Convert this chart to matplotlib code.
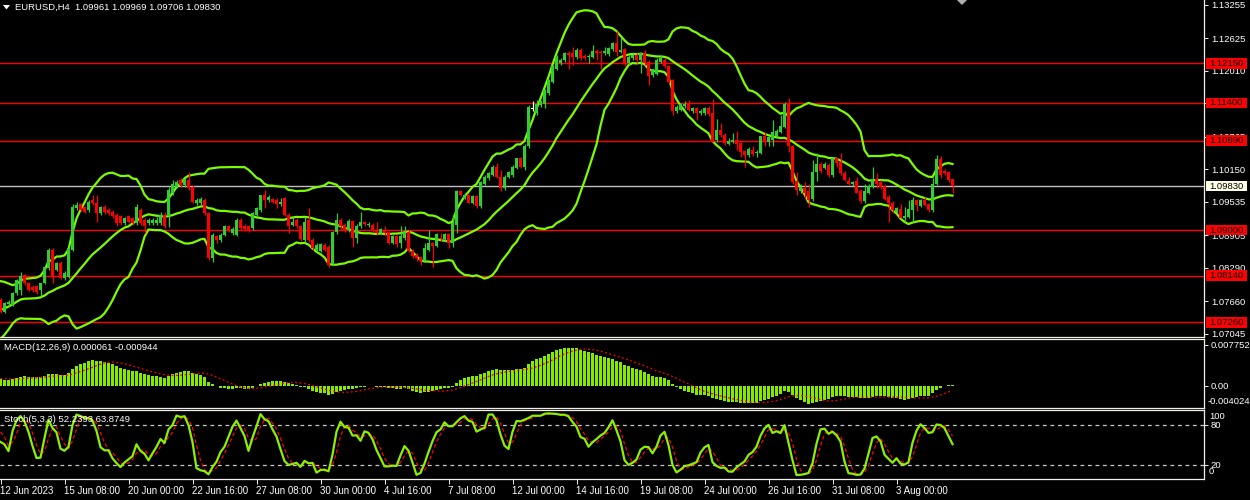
import numpy as np
import pandas as pd
import matplotlib
matplotlib.use('Agg')
import matplotlib.pyplot as plt
from matplotlib.patches import Rectangle, Polygon
from matplotlib.transforms import blended_transform_factory

plt.rcParams['font.family'] = ['Liberation Sans', 'DejaVu Sans']

# bars before the first visible candle, only used to warm up the indicators
warm_close = [1.0712, 1.0705, 1.0716, 1.0698, 1.0706, 1.0711,
              1.0714, 1.0706, 1.0688, 1.0681, 1.0697, 1.0693,
              1.0700, 1.0694, 1.0706, 1.0716, 1.0701, 1.0698,
              1.0700, 1.0709, 1.0726, 1.0767, 1.0784, 1.0779,
              1.0775, 1.0770, 1.0764, 1.0752, 1.0748, 1.0750,
              1.0746, 1.0760, 1.0772, 1.0764, 1.0775]
warm_high = [1.0718, 1.0716, 1.0720, 1.0719, 1.0710, 1.0716,
             1.0719, 1.0717, 1.0709, 1.0692, 1.0701, 1.0700,
             1.0705, 1.0703, 1.0710, 1.0722, 1.0719, 1.0705,
             1.0704, 1.0713, 1.0731, 1.0772, 1.0790, 1.0788,
             1.0783, 1.0778, 1.0773, 1.0767, 1.0756, 1.0755,
             1.0754, 1.0764, 1.0777, 1.0775, 1.0779]
warm_low = [1.0703, 1.0700, 1.0702, 1.0694, 1.0695, 1.0703,
            1.0707, 1.0702, 1.0684, 1.0676, 1.0679, 1.0689,
            1.0690, 1.0690, 1.0692, 1.0703, 1.0698, 1.0694,
            1.0695, 1.0697, 1.0705, 1.0723, 1.0762, 1.0774,
            1.0770, 1.0765, 1.0760, 1.0748, 1.0743, 1.0744,
            1.0741, 1.0744, 1.0757, 1.0761, 1.0762]

# visible H4 candles, 12 Jun 16:00 .. 7 Aug 08:00
opens = [
    1.0768, 1.0746, 1.0760, 1.0759, 1.0781, 1.0787, 1.0815, 1.0800, 1.0793, 1.0794,
    1.0787, 1.0800, 1.0828, 1.0863, 1.0825, 1.0838, 1.0809, 1.0812, 1.0863, 1.0941,
    1.0949, 1.0944, 1.0938, 1.0957, 1.0951, 1.0932, 1.0944, 1.0938, 1.0935, 1.0929,
    1.0926, 1.0913, 1.0926, 1.0922, 1.0913, 1.0938, 1.0919, 1.0913, 1.0913, 1.0913,
    1.0913, 1.0929, 1.0926, 1.0970, 1.0982, 1.0995, 1.0985, 1.0995, 1.0982, 1.0951,
    1.0951, 1.0957, 1.0932, 1.0847, 1.0888, 1.0882, 1.0891, 1.0907, 1.0894, 1.0891,
    1.0919, 1.0908, 1.0907, 1.0904, 1.0929, 1.0938, 1.0966, 1.0957, 1.0958, 1.0957,
    1.0949, 1.0960, 1.0929, 1.0910, 1.0919, 1.0907, 1.0882, 1.0919, 1.0882, 1.0863,
    1.0861, 1.0872, 1.0869, 1.0837, 1.0896, 1.0919, 1.0910, 1.0900, 1.0917, 1.0885,
    1.0907, 1.0915, 1.0909, 1.0910, 1.0901, 1.0895, 1.0900, 1.0896, 1.0876, 1.0888,
    1.0875, 1.0885, 1.0897, 1.0861, 1.0854, 1.0849, 1.0842, 1.0863, 1.0875, 1.0871,
    1.0886, 1.0883, 1.0892, 1.0875, 1.0910, 1.0973, 1.0961, 1.0966, 1.0952, 1.0964,
    1.0945, 1.0988, 1.0998, 1.1005, 1.1020, 1.1001, 1.0979, 1.1001, 1.1004, 1.1018,
    1.1036, 1.1020, 1.1058, 1.1129, 1.1121, 1.1136, 1.1139, 1.1158, 1.1180, 1.1205,
    1.1215, 1.1221, 1.1235, 1.1234, 1.1226, 1.1240, 1.1229, 1.1226, 1.1227, 1.1238,
    1.1237, 1.1234, 1.1232, 1.1241, 1.1254, 1.1237, 1.1241, 1.1215, 1.1224, 1.1231,
    1.1221, 1.1234, 1.1218, 1.1193, 1.1195, 1.1218, 1.1222, 1.1209, 1.1183, 1.1124,
    1.1127, 1.1134, 1.1139, 1.1124, 1.1130, 1.1121, 1.1121, 1.1131, 1.1122, 1.1070,
    1.1089, 1.1080, 1.1063, 1.1067, 1.1070, 1.1064, 1.1049, 1.1042, 1.1051, 1.1045,
    1.1046, 1.1077, 1.1067, 1.1070, 1.1077, 1.1086, 1.1095, 1.1139, 1.1058, 1.0992,
    1.0973, 1.0980, 1.0973, 1.0958, 1.1009, 1.1025, 1.1018, 1.1023, 1.1004, 1.1036,
    1.1029, 1.1008, 1.0993, 1.0987, 1.0992, 1.0974, 1.0955, 1.0971, 1.0982, 1.0997,
    1.0990, 1.0984, 1.0962, 1.0952, 1.0935, 1.0940, 1.0923, 1.0925, 1.0938, 1.0956,
    1.0946, 1.0956, 1.0949, 1.0938, 1.0988, 1.1034, 1.1011, 1.1009, 1.09961]
highs = [
    1.0771, 1.0765, 1.0768, 1.0783, 1.0808, 1.0821, 1.0818, 1.0803, 1.0796, 1.0797,
    1.0801, 1.0833, 1.0866, 1.0866, 1.0840, 1.0841, 1.0822, 1.0869, 1.0950, 1.0954,
    1.0952, 1.0946, 1.0957, 1.0966, 1.0966, 1.0946, 1.0947, 1.0941, 1.0938, 1.0932,
    1.0928, 1.0925, 1.0928, 1.0925, 1.0950, 1.0941, 1.0922, 1.0922, 1.0922, 1.0925,
    1.0935, 1.0935, 1.0982, 1.0994, 1.0994, 1.0998, 1.0999, 1.1010, 1.0985, 1.0960,
    1.0963, 1.0960, 1.0935, 1.0895, 1.0891, 1.0895, 1.0910, 1.0910, 1.0906, 1.0922,
    1.0922, 1.0911, 1.0910, 1.0935, 1.0944, 1.0966, 1.0976, 1.0966, 1.0961, 1.0960,
    1.0960, 1.0963, 1.0932, 1.0925, 1.0922, 1.0910, 1.0925, 1.0941, 1.0885, 1.0875,
    1.0876, 1.0875, 1.0872, 1.0899, 1.0932, 1.0922, 1.0913, 1.0921, 1.0920, 1.0911,
    1.0934, 1.0918, 1.0915, 1.0913, 1.0916, 1.0904, 1.0907, 1.0899, 1.0891, 1.0891,
    1.0907, 1.0907, 1.0900, 1.0864, 1.0857, 1.0852, 1.0875, 1.0900, 1.0878, 1.0894,
    1.0894, 1.0894, 1.0895, 1.0929, 1.0975, 1.0976, 1.0970, 1.0969, 1.0967, 1.0967,
    1.0992, 1.1004, 1.1010, 1.1023, 1.1026, 1.1014, 1.1004, 1.1011, 1.1023, 1.1037,
    1.1039, 1.1062, 1.1136, 1.1143, 1.1146, 1.1146, 1.1167, 1.1186, 1.1212, 1.1230,
    1.1225, 1.1237, 1.1238, 1.1246, 1.1243, 1.1243, 1.1232, 1.1232, 1.1249, 1.1241,
    1.1240, 1.1246, 1.1245, 1.1256, 1.1275, 1.1265, 1.1244, 1.1230, 1.1234, 1.1234,
    1.1237, 1.1240, 1.1221, 1.1205, 1.1224, 1.1231, 1.1225, 1.1212, 1.1186, 1.1136,
    1.1140, 1.1143, 1.1146, 1.1133, 1.1133, 1.1128, 1.1133, 1.1134, 1.1147, 1.1110,
    1.1102, 1.1083, 1.1073, 1.1083, 1.1087, 1.1067, 1.1052, 1.1057, 1.1058, 1.1051,
    1.1077, 1.1086, 1.1078, 1.1108, 1.1090, 1.1117, 1.1141, 1.1149, 1.1061, 1.1010,
    1.0988, 1.0990, 1.0988, 1.1032, 1.1046, 1.1029, 1.1028, 1.1026, 1.1039, 1.1039,
    1.1045, 1.1011, 1.1001, 1.0993, 1.1000, 1.0977, 1.0988, 1.0987, 1.1019, 1.1007,
    1.0994, 1.0987, 1.0966, 1.0955, 1.0944, 1.0949, 1.0943, 1.0957, 1.0962, 1.0959,
    1.0959, 1.0962, 1.0952, 1.0998, 1.1042, 1.1040, 1.1015, 1.1012, 1.09969]
lows = [
    1.0743, 1.0743, 1.0757, 1.0756, 1.0778, 1.0778, 1.0797, 1.0785, 1.0784, 1.0780,
    1.0775, 1.0798, 1.0825, 1.0800, 1.0822, 1.0807, 1.0805, 1.0810, 1.0860, 1.0938,
    1.0936, 1.0933, 1.0935, 1.0948, 1.0916, 1.0929, 1.0931, 1.0929, 1.0923, 1.0907,
    1.0910, 1.0910, 1.0914, 1.0910, 1.0910, 1.0910, 1.0894, 1.0910, 1.0910, 1.0910,
    1.0910, 1.0904, 1.0905, 1.0966, 1.0979, 1.0982, 1.0982, 1.0976, 1.0951, 1.0948,
    1.0948, 1.0929, 1.0843, 1.0840, 1.0875, 1.0878, 1.0888, 1.0897, 1.0891, 1.0888,
    1.0901, 1.0899, 1.0897, 1.0901, 1.0926, 1.0935, 1.0941, 1.0954, 1.0951, 1.0941,
    1.0946, 1.0926, 1.0894, 1.0907, 1.0904, 1.0880, 1.0878, 1.0878, 1.0863, 1.0860,
    1.0858, 1.0860, 1.0831, 1.0834, 1.0893, 1.0900, 1.0897, 1.0897, 1.0869, 1.0875,
    1.0904, 1.0907, 1.0906, 1.0897, 1.0891, 1.0892, 1.0891, 1.0873, 1.0873, 1.0869,
    1.0866, 1.0882, 1.0859, 1.0848, 1.0842, 1.0834, 1.0839, 1.0860, 1.0831, 1.0868,
    1.0880, 1.0880, 1.0866, 1.0869, 1.0894, 1.0964, 1.0958, 1.0951, 1.0949, 1.0941,
    1.0942, 1.0985, 1.0995, 1.1002, 1.0998, 1.0973, 1.0976, 1.0998, 1.1001, 1.1015,
    1.1017, 1.1014, 1.1055, 1.1124, 1.1118, 1.1133, 1.1130, 1.1155, 1.1177, 1.1202,
    1.1212, 1.1218, 1.1205, 1.1212, 1.1223, 1.1221, 1.1221, 1.1215, 1.1224, 1.1221,
    1.1205, 1.1231, 1.1229, 1.1238, 1.1228, 1.1234, 1.1209, 1.1212, 1.1221, 1.1215,
    1.1196, 1.1212, 1.1174, 1.1190, 1.1192, 1.1215, 1.1206, 1.1177, 1.1117, 1.1121,
    1.1124, 1.1131, 1.1124, 1.1121, 1.1108, 1.1118, 1.1118, 1.1116, 1.1066, 1.1067,
    1.1076, 1.1061, 1.1060, 1.1065, 1.1051, 1.1039, 1.1020, 1.1039, 1.1040, 1.1039,
    1.1043, 1.1058, 1.1058, 1.1058, 1.1074, 1.1083, 1.1092, 1.1048, 1.0987, 1.0966,
    1.0970, 1.0960, 1.0944, 1.0955, 1.0992, 1.1007, 1.1016, 1.1001, 1.1001, 1.1020,
    1.1004, 1.0992, 1.0985, 1.0984, 1.0970, 1.0951, 1.0952, 1.0968, 1.0979, 1.0979,
    1.0977, 1.0956, 1.0916, 1.0932, 1.0932, 1.0922, 1.0916, 1.0922, 1.0916, 1.0937,
    1.0943, 1.0945, 1.0935, 1.0934, 1.0985, 1.0999, 1.1004, 1.0990, 1.09706]
closes = [
    1.0746, 1.0762, 1.0765, 1.0781, 1.0806, 1.0813, 1.0800, 1.0787, 1.0787, 1.0784,
    1.0800, 1.0831, 1.0863, 1.0812, 1.0838, 1.0809, 1.0819, 1.0866, 1.0944, 1.0947,
    1.0938, 1.0935, 1.0954, 1.0951, 1.0932, 1.0944, 1.0935, 1.0932, 1.0926, 1.0913,
    1.0913, 1.0922, 1.0916, 1.0913, 1.0944, 1.0913, 1.0907, 1.0919, 1.0919, 1.0919,
    1.0929, 1.0907, 1.0976, 1.0988, 1.0991, 1.0985, 1.0996, 1.0979, 1.0954, 1.0957,
    1.0958, 1.0932, 1.0847, 1.0891, 1.0882, 1.0891, 1.0907, 1.0900, 1.0903, 1.0919,
    1.0904, 1.0902, 1.0900, 1.0932, 1.0941, 1.0966, 1.0957, 1.0963, 1.0954, 1.0949,
    1.0954, 1.0929, 1.0907, 1.0916, 1.0907, 1.0883, 1.0916, 1.0882, 1.0866, 1.0872,
    1.0873, 1.0863, 1.0834, 1.0896, 1.0919, 1.0907, 1.0900, 1.0917, 1.0885, 1.0908,
    1.0916, 1.0912, 1.0912, 1.0900, 1.0894, 1.0902, 1.0894, 1.0876, 1.0888, 1.0874,
    1.0888, 1.0897, 1.0860, 1.0851, 1.0847, 1.0842, 1.0866, 1.0875, 1.0870, 1.0892,
    1.0883, 1.0892, 1.0876, 1.0913, 1.0973, 1.0966, 1.0966, 1.0952, 1.0964, 1.0945,
    1.0990, 1.1001, 1.1007, 1.1020, 1.1001, 1.0979, 1.1001, 1.1009, 1.1020, 1.1036,
    1.1020, 1.1059, 1.1133, 1.1129, 1.1139, 1.1143, 1.1165, 1.1183, 1.1209, 1.1227,
    1.1222, 1.1235, 1.1231, 1.1226, 1.1240, 1.1224, 1.1224, 1.1229, 1.1238, 1.1235,
    1.1234, 1.1239, 1.1243, 1.1254, 1.1237, 1.1240, 1.1215, 1.1227, 1.1231, 1.1222,
    1.1234, 1.1215, 1.1191, 1.1204, 1.1221, 1.1224, 1.1209, 1.1180, 1.1124, 1.1132,
    1.1138, 1.1139, 1.1127, 1.1130, 1.1121, 1.1125, 1.1131, 1.1119, 1.1067, 1.1089,
    1.1080, 1.1064, 1.1069, 1.1070, 1.1063, 1.1048, 1.1041, 1.1054, 1.1044, 1.1048,
    1.1077, 1.1067, 1.1075, 1.1086, 1.1088, 1.1097, 1.1139, 1.1058, 1.0990, 1.0975,
    1.0982, 1.0970, 1.0957, 1.1010, 1.1024, 1.1012, 1.1024, 1.1004, 1.1036, 1.1026,
    1.1007, 1.0995, 1.0988, 1.0990, 1.0971, 1.0955, 1.0973, 1.0984, 1.0997, 1.0988,
    1.0982, 1.0959, 1.0951, 1.0938, 1.0941, 1.0922, 1.0926, 1.0939, 1.0956, 1.0948,
    1.0956, 1.0948, 1.0938, 1.0988, 1.1034, 1.1004, 1.1008, 1.0995, 1.09830]

date_labels = ['12 Jun 2023', '15 Jun 08:00', '20 Jun 00:00', '22 Jun 16:00',
               '27 Jun 08:00', '30 Jun 00:00', '4 Jul 16:00', '7 Jul 08:00',
               '12 Jul 00:00', '14 Jul 16:00', '19 Jul 08:00', '24 Jul 00:00',
               '26 Jul 16:00', '31 Jul 08:00', '3 Aug 00:00']
label_step = 16  # one date label every 16 bars

price_ticks = [1.13255, 1.12625, 1.12010, 1.11395, 1.10765, 1.10150,
               1.09535, 1.08905, 1.08290, 1.07660, 1.07045]
levels = [1.12150, 1.11400, 1.10690, 1.09000, 1.08140, 1.07260]
bid = 1.09830

title_txt = 'EURUSD,H4  1.09961 1.09969 1.09706 1.09830'
macd_txt = 'MACD(12,26,9) 0.000061 -0.000944'
stoch_txt = 'Stoch(5,3,3) 52.2393 63.8749'

# ---- indicators (BB 20/2, MACD 12/26/9, Stoch 5/3/3) ----
nw = len(warm_close)
c_all = pd.Series(warm_close + closes)
h_all = pd.Series(warm_high + highs)
l_all = pd.Series(warm_low + lows)

mid = c_all.rolling(20).mean()
sd = c_all.rolling(20).std(ddof=0)
upper = mid + 2 * sd
lower = mid - 2 * sd

macd = c_all.ewm(span=12, adjust=False).mean() - c_all.ewm(span=26, adjust=False).mean()
signal = macd.rolling(9).mean()

ll = l_all.rolling(5).min()
hh = h_all.rolling(5).max()
k = 100 * (c_all - ll).rolling(3).sum() / (hh - ll).rolling(3).sum()
d = k.rolling(3).mean()

n = len(closes)
x = np.arange(n)
vis = slice(nw, nw + n)

# ---- figure ----
W, H = 1250, 500
fs = 6.8
fig = plt.figure(figsize=(W / 100, H / 100), dpi=100, facecolor='black')


def box(top, bottom, right=1204):
    return [0, 1 - bottom / H, right / W, (bottom - top) / H]


ax1 = fig.add_axes(box(0, 337))
ax2 = fig.add_axes(box(339, 408))
ax3 = fig.add_axes(box(410, 479))

frame = '#F0F0E8'
for ax in (ax1, ax2, ax3):
    ax.set_facecolor('black')
    ax.set_xlim(-0.125, 300.875)
    ax.spines['left'].set_visible(False)
    for s in ('top', 'bottom', 'right'):
        ax.spines[s].set_color(frame)
        ax.spines[s].set_linewidth(0.9)
    ax.yaxis.tick_right()
    ax.tick_params(axis='y', colors=frame, labelcolor='white', length=3, width=0.7,
                   pad=2, labelsize=fs)
ax1.spines['top'].set_visible(False)
ax1.set_xticks([])
ax2.set_xticks([])

# main price panel
ax1.set_ylim(1.06983, 1.13344)
ax1.set_yticks(price_ticks, labels=[f'{p:.5f}' for p in price_ticks])

for lv in levels:
    ax1.axhline(lv, color='#FF0000', lw=1.0, zorder=1)
ax1.axhline(bid, color='#C0C0C0', lw=1.0, zorder=1)

bb_col = '#7CFC00'
for band in (upper, mid, lower):
    ax1.plot(x, band.values[vis], color=bb_col, lw=1.6, zorder=2)

o = np.array(opens)
c = np.array(closes)
hi = np.array(highs)
lo = np.array(lows)
col = np.where(c > o, '#32CD32', np.where(c < o, '#FF0000', '#FFFFFF'))
ax1.vlines(x, lo, hi, colors=col, lw=0.9, zorder=3)
body = np.maximum(np.abs(c - o), 0.00008)
ax1.bar(x, body, bottom=np.minimum(o, c), width=0.7, color=col, lw=0, zorder=4)

# right-hand price boxes
tr = blended_transform_factory(ax1.transAxes, ax1.transData)
bh = 10.5 * (1.13344 - 1.06983) / 337
for lv, fc in [(v, '#FF0000') for v in levels] + [(bid, '#FFFFE6')]:
    ax1.add_patch(Rectangle((1 + 2 / 1204, lv - bh / 2), 41 / 1204, bh, transform=tr,
                            fc=fc, ec='none', clip_on=False, zorder=10))
    ax1.annotate(f'{lv:.5f}', xy=(1, lv), xycoords=tr, xytext=(4, 0),
                 textcoords='offset points', va='center', ha='left', fontsize=fs,
                 color='black', zorder=11, annotation_clip=False)

# MACD panel
hist_col = '#86EA00'
ax2.set_ylim(-0.00424, 0.00887)
ax2.bar(x, macd.values[vis], width=0.75, color=hist_col, lw=0, zorder=2)
ax2.plot(x, signal.values[vis], color='#FF0000', lw=0.9, ls=(0, (1.5, 2)), zorder=3)
ax2.set_yticks([0.007752, 0.0], labels=['0.007752', '0.00'])
ax2.annotate('-0.004024', xy=(1, -0.004024), xycoords=('axes fraction', 'data'),
             xytext=(2.5, 3.6), textcoords='offset points', va='center', ha='left',
             fontsize=fs, color='white', annotation_clip=False)

# Stochastic panel
ax3.set_ylim(-1.05, 102.5)
for lv in (80, 20):
    ax3.axhline(lv, color='#C8C8C8', lw=0.9, ls=(0, (3, 3)), zorder=1)
ax3.plot(x, k.values[vis], color='#8CF000', lw=1.6, zorder=3)
ax3.plot(x, d.values[vis], color='#FF0000', lw=0.9, ls=(0, (3, 2)), zorder=2)
ax3.set_yticks([80, 20], labels=['80', '20'])
ax3.annotate('100', xy=(1, 100), xycoords=('axes fraction', 'data'), xytext=(3.5, -3.6),
             textcoords='offset points', va='center', ha='left', fontsize=fs,
             color='white', annotation_clip=False)
ax3.annotate('0', xy=(1, 0), xycoords=('axes fraction', 'data'), xytext=(3.5, 4.6),
             textcoords='offset points', va='center', ha='left', fontsize=fs,
             color='white', annotation_clip=False)

tick_pos = np.arange(len(date_labels)) * label_step
ax3.set_xticks(tick_pos)
ax3.set_xticklabels(date_labels, ha='left', fontsize=7.0, color='white')
ax3.tick_params(axis='x', colors=frame, labelcolor='white', length=3.5, width=0.7, pad=1.5)

# panel captions
fig.text(15 / W, 1 - 7.5 / H, title_txt, color='white', fontsize=fs, va='center', ha='left')
fig.add_artist(Polygon([[3 / W, 1 - 5 / H], [10 / W, 1 - 5 / H], [6.5 / W, 1 - 9.5 / H]],
                       closed=True, fc='white', ec='none', transform=fig.transFigure))
fig.add_artist(Polygon([[957 / W, 1.0], [967 / W, 1.0], [962 / W, 1 - 5 / H]],
                       closed=True, fc='#B0B0B0', ec='none', transform=fig.transFigure))
fig.text(4 / W, 1 - 348 / H, macd_txt, color='white', fontsize=fs, va='center', ha='left')
fig.text(4 / W, 1 - 419.5 / H, stoch_txt, color='white', fontsize=fs, va='center',
         ha='left', zorder=5)

fig.savefig('out.png', dpi=100, facecolor='black')
